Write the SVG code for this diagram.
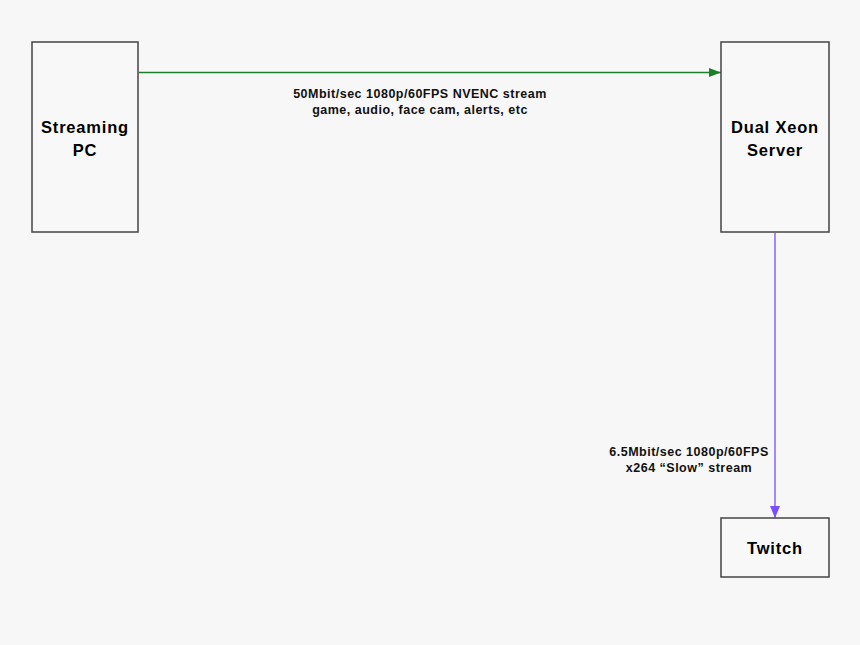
<svg xmlns="http://www.w3.org/2000/svg" width="860" height="645" viewBox="0 0 860 645">
<style>
.box{fill:#f8f8f8;stroke:#444;stroke-width:1.5}
.t{font-family:"Liberation Sans",Arial,sans-serif;font-weight:bold;font-size:16.5px;letter-spacing:0.8px;text-anchor:middle;fill:#000}
.l{font-family:"Liberation Sans",Arial,sans-serif;font-weight:bold;font-size:12.5px;letter-spacing:0.5px;text-anchor:middle;fill:#111}
</style>
<defs>
<marker id="ag" markerWidth="12" markerHeight="10" refX="12" refY="5" orient="auto" markerUnits="userSpaceOnUse"><path d="M0,0.5 L12,5 L0,9.5 z" fill="#1e7e2a"/></marker>
<marker id="ap" markerWidth="12" markerHeight="10" refX="12" refY="5" orient="auto" markerUnits="userSpaceOnUse"><path d="M0,0 L12,5 L0,10 z" fill="#7a4dff"/></marker>
</defs>
<rect width="860" height="645" fill="#f7f7f7"/>
<g id="connectors">
<line x1="139" y1="72.5" x2="721" y2="72.5" stroke="#1e7e2a" stroke-width="1.3" marker-end="url(#ag)"/>
<line x1="775" y1="233" x2="775" y2="518" stroke="#7a4dff" stroke-width="1.3" marker-end="url(#ap)"/>
<text class="l" x="420" y="98">50Mbit/sec 1080p/60FPS NVENC stream</text>
<text class="l" x="420" y="114">game, audio, face cam, alerts, etc</text>
<text class="l" x="689" y="456">6.5Mbit/sec 1080p/60FPS</text>
<text class="l" x="689" y="472">x264 “Slow” stream</text>
</g>
<g id="streaming-pc">
<rect class="box" x="32" y="42" width="106" height="190"/>
<text class="t" x="85" y="133">Streaming</text>
<text class="t" x="85" y="156">PC</text>
</g>
<g id="dual-xeon">
<rect class="box" x="721" y="42" width="108" height="190"/>
<text class="t" x="775" y="133">Dual Xeon</text>
<text class="t" x="775" y="156">Server</text>
</g>
<g id="twitch">
<rect class="box" x="721" y="518" width="108" height="59"/>
<text class="t" x="775" y="554">Twitch</text>
</g>
</svg>
